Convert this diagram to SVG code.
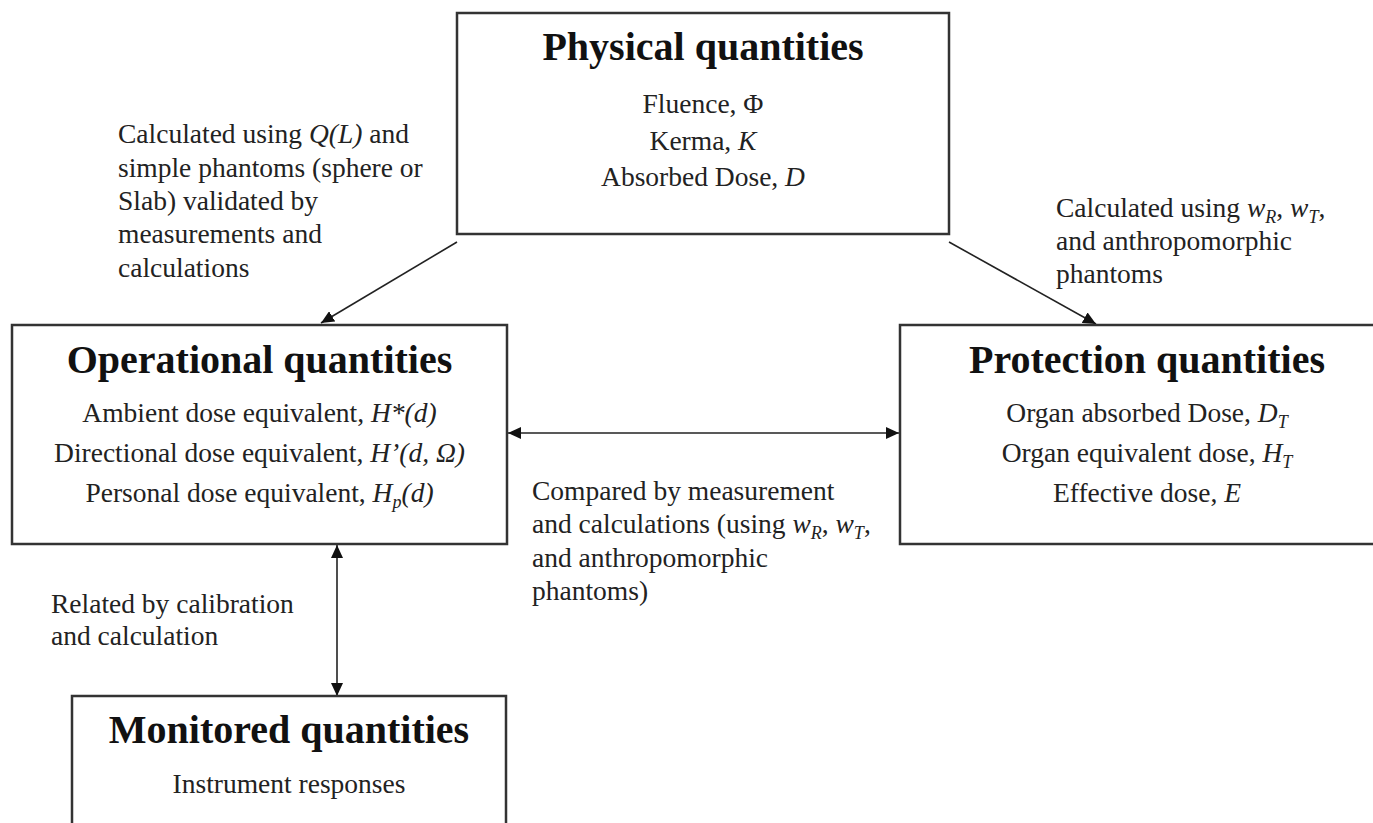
<svg xmlns="http://www.w3.org/2000/svg" width="1373" height="823" viewBox="0 0 1373 823">
<style>
.box{fill:#fff;stroke:#333;stroke-width:2.5}
.title{font-family:"Liberation Serif","Times New Roman",serif;font-weight:bold;font-size:40px;fill:#111;text-anchor:middle}
.body{font-family:"Liberation Serif","Times New Roman",serif;font-size:27.5px;fill:#222;text-anchor:middle}
.lab{font-family:"Liberation Serif","Times New Roman",serif;font-size:27.5px;fill:#222}
.it{font-style:italic}
.sub{font-size:18px;font-style:italic}
.con{stroke:#222;stroke-width:1.6;fill:none}
</style>
<defs>
<marker id="ah" markerUnits="userSpaceOnUse" markerWidth="13" markerHeight="12" refX="13" refY="6" orient="auto-start-reverse">
<path d="M0,0 L13,6 L0,12 z" fill="#111"/>
</marker>
</defs>
<rect width="1373" height="823" fill="#fff"/>

<g id="connectors">
<line class="con" x1="457" y1="242" x2="321" y2="323" marker-end="url(#ah)"/>
<line class="con" x1="949" y1="242" x2="1096" y2="324" marker-end="url(#ah)"/>
<line class="con" x1="508" y1="433" x2="899" y2="433" marker-start="url(#ah)" marker-end="url(#ah)"/>
<line class="con" x1="337" y1="545" x2="337" y2="696" marker-start="url(#ah)" marker-end="url(#ah)"/>
</g>

<g id="physical">
<rect class="box" x="457" y="13" width="492" height="221"/>
<text class="title" x="703" y="60">Physical quantities</text>
<text class="body" x="703" y="113">Fluence, Φ</text>
<text class="body" x="703" y="150">Kerma, <tspan class="it">K</tspan></text>
<text class="body" x="703" y="186">Absorbed Dose, <tspan class="it">D</tspan></text>
</g>

<g id="operational">
<rect class="box" x="12" y="325" width="495" height="219"/>
<text class="title" x="259.5" y="373">Operational quantities</text>
<text class="body" x="259.5" y="422">Ambient dose equivalent, <tspan class="it">H*(d)</tspan></text>
<text class="body" x="259.5" y="462">Directional dose equivalent, <tspan class="it">H’(d, Ω)</tspan></text>
<text class="body" x="259.5" y="502">Personal dose equivalent, <tspan class="it">H</tspan><tspan class="sub" dy="6">p</tspan><tspan class="it" dy="-6">(d)</tspan></text>
</g>

<g id="protection">
<rect class="box" x="900" y="325" width="500" height="219"/>
<text class="title" x="1147" y="373">Protection quantities</text>
<text class="body" x="1147" y="422">Organ absorbed Dose, <tspan class="it">D</tspan><tspan class="sub" dy="6">T</tspan></text>
<text class="body" x="1147" y="462">Organ equivalent dose, <tspan class="it">H</tspan><tspan class="sub" dy="6">T</tspan></text>
<text class="body" x="1147" y="502">Effective dose, <tspan class="it">E</tspan></text>
</g>

<g id="monitored">
<rect class="box" x="72" y="696" width="434" height="150"/>
<text class="title" x="289" y="743">Monitored quantities</text>
<text class="body" x="289" y="793">Instrument responses</text>
</g>

<g id="labels">
<text class="lab" x="118" y="143">Calculated using <tspan class="it">Q(L)</tspan> and</text>
<text class="lab" x="118" y="177">simple phantoms (sphere or</text>
<text class="lab" x="118" y="210">Slab) validated by</text>
<text class="lab" x="118" y="243">measurements and</text>
<text class="lab" x="118" y="277">calculations</text>

<text class="lab" x="1056" y="217">Calculated using <tspan class="it">w</tspan><tspan class="sub" dy="6">R</tspan><tspan dy="-6">, </tspan><tspan class="it">w</tspan><tspan class="sub" dy="6">T</tspan><tspan dy="-6">,</tspan></text>
<text class="lab" x="1056" y="250">and anthropomorphic</text>
<text class="lab" x="1056" y="283">phantoms</text>

<text class="lab" x="532" y="500">Compared by measurement</text>
<text class="lab" x="532" y="533">and calculations (using <tspan class="it">w</tspan><tspan class="sub" dy="6">R</tspan><tspan dy="-6">, </tspan><tspan class="it">w</tspan><tspan class="sub" dy="6">T</tspan><tspan dy="-6">,</tspan></text>
<text class="lab" x="532" y="567">and anthropomorphic</text>
<text class="lab" x="532" y="600">phantoms)</text>

<text class="lab" x="51" y="613">Related by calibration</text>
<text class="lab" x="51" y="645">and calculation</text>
</g>
</svg>
